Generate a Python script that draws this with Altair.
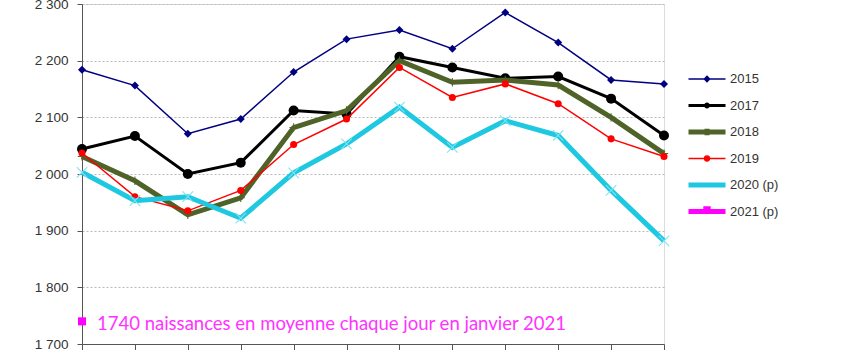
import altair as alt
import pandas as pd

months = ["janv.", "févr.", "mars", "avr.", "mai", "juin", "juil.", "août", "sept.", "oct.", "nov.", "déc."]
series = ["2015", "2017", "2018", "2019", "2020 (p)", "2021 (p)"]

v2015 = [2184, 2156, 2071, 2097, 2180, 2238, 2254, 2221, 2285, 2232, 2166, 2159]
v2017 = [2044, 2067, 2000, 2020, 2112, 2106, 2207, 2188, 2169, 2172, 2133, 2068]
v2018 = [2031, 1988, 1928, 1958, 2082, 2112, 2200, 2162, 2166, 2157, 2100, 2036]
v2019 = [2037, 1960, 1935, 1971, 2052, 2097, 2188, 2135, 2159, 2124, 2062, 2031]
v2020 = [2003, 1953, 1960, 1922, 2002, 2053, 2118, 2047, 2094, 2068, 1971, 1882]
v2021 = [1740]

colors = ["#000080", "#000000", "#4F6228", "#FF0000", "#1EC8E1", "#FF00FF"]
marker_colors = ["#000080", "#000000", "#4F6228", "#FF0000", "#7FE3F2", "#FF00FF"]
widths = [1.5, 3, 5, 1.5, 5, 5]
plus_path = "M-1,-0.12L1,-0.12L1,0.12L-1,0.12ZM-0.12,-1L0.12,-1L0.12,1L-0.12,1Z"
x_path = ("M-1.07,-0.93L0.93,1.07L1.07,0.93L-0.93,-1.07Z"
          "M-0.93,1.07L1.07,-0.93L0.93,-1.07L-1.07,0.93Z")
shapes = ["diamond", "circle", plus_path, "circle", x_path, "square"]
sizes = [64, 100, 70, 50, 110, 64]

# legend symbols: a line segment with the series marker in its middle
seg = "M-9.25,0L9.25,0"
legend_shapes = [
    seg + "M-1.3,0L0,-1.3L1.3,0L0,1.3Z",
    seg + "M0.75,0A0.75,0.75,0,1,1,-0.75,0A0.75,0.75,0,1,1,0.75,0Z",
    seg + "M0,-1.6L0,1.6",
    seg + "M1.2,0A1.2,1.2,0,1,1,-1.2,0A1.2,1.2,0,1,1,1.2,0Z",
    seg,
    seg + "M-0.6,-1.4L0.6,-1.4L0.6,0L-0.6,0Z",
]

annotation = "1740 naissances en moyenne chaque jour en janvier 2021"

rows = []
for name, vals in zip(series, [v2015, v2017, v2018, v2019, v2020, v2021]):
    for m, v in zip(months, vals):
        rows.append({"mois": m, "naissances": v, "serie": name})
df = pd.DataFrame(rows)

ann_df = pd.DataFrame([{"mois": months[0], "naissances": v2021[0], "texte": annotation}])

x_enc = alt.X("mois:N", sort=months,
              scale=alt.Scale(type="point", padding=0),
              axis=alt.Axis(title=None, labels=False, ticks=True, tickSize=8,
                            tickColor="#555555", domainColor="#555555", grid=False))
y_enc = alt.Y("naissances:Q",
              scale=alt.Scale(domain=[1700, 2300], nice=False, zero=False),
              axis=alt.Axis(title=None, values=[1700, 1800, 1900, 2000, 2100, 2200, 2300],
                            labelExpr="replace(format(datum.value, ','), ',', ' ')",
                            tickSize=5, tickColor="#555555", domainColor="#555555",
                            labelPadding=9, labelFont="Liberation Sans", labelFontSize=13.5,
                            labelColor="#333333", grid=True, gridColor="#BBBBBB",
                            gridDash=[2, 2], gridWidth=1))

layers = []
for name, col, mcol, w, shp, sz in zip(series, colors, marker_colors, widths, shapes, sizes):
    base = alt.Chart(df).transform_filter(alt.datum.serie == name)
    layers.append(base.mark_line(color=col, strokeWidth=w).encode(x=x_enc, y=y_enc))
    layers.append(base.mark_point(filled=True, opacity=1, fill=mcol, shape=shp, size=sz)
                  .encode(x=x_enc, y=y_enc))

leg = alt.Legend(title=None, orient="none", legendX=618.5, legendY=68.5,
                 symbolSize=16, labelOffset=16.5, rowPadding=-0.5, padding=0,
                 gridAlign="all",
                 labelFont="Liberation Sans", labelFontSize=13, labelColor="#333333")

# legend-only layer (draws no marks in the plot)
legend_layer = alt.Chart(df).transform_filter("false").mark_point(
    filled=True, opacity=1, size=16).encode(
    x=x_enc, y=y_enc,
    fill=alt.Fill("serie:N", scale=alt.Scale(domain=series, range=colors), legend=leg),
    stroke=alt.Stroke("serie:N", scale=alt.Scale(domain=series, range=colors), legend=leg),
    strokeWidth=alt.StrokeWidth("serie:N", scale=alt.Scale(type="ordinal", domain=series,
                                                           range=widths), legend=leg),
    shape=alt.Shape("serie:N", scale=alt.Scale(domain=series, range=legend_shapes), legend=leg),
)

text = alt.Chart(ann_df).mark_text(align="left", baseline="alphabetic", dx=15, dy=8.7,
                                   font="Lato", fontSize=18.5, color="#FF33FF").encode(
    x=x_enc, y=y_enc, text="texte:N")

chart = alt.layer(*layers, text, legend_layer).properties(
    width=582, height=340,
    autosize=alt.AutoSizeParams(type="none"),
    padding={"left": 82, "top": 4, "right": 186, "bottom": 6},
).configure_view(stroke="#8C8C8C", strokeWidth=1.5).configure(background="white")

chart.save("out.html", embed_options={"renderer": "svg", "actions": False})
